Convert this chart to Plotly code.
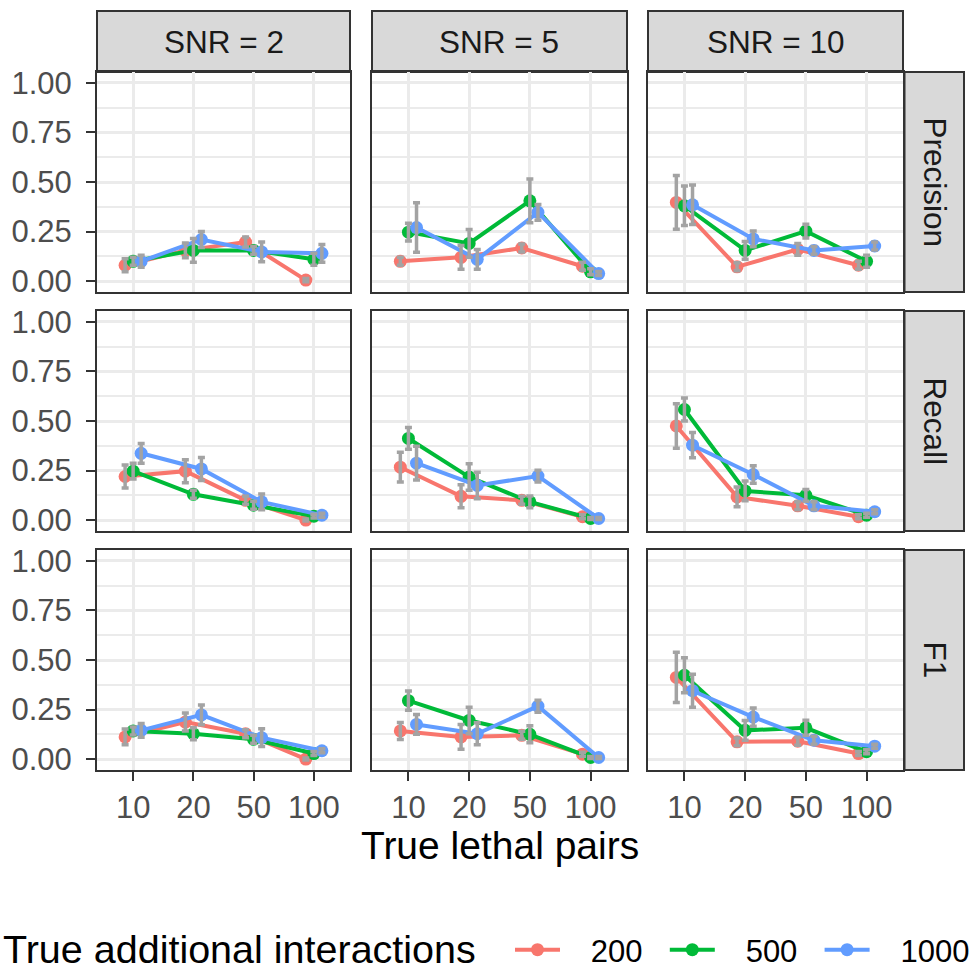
import plotly.graph_objects as go

# ---------------- data ----------------
lethal = ["10", "20", "50", "100"]
interactions = ["200", "500", "1000"]
snr_labels = ["SNR = 2", "SNR = 5", "SNR = 10"]
metrics = ["Precision", "Recall", "F1"]
colors = ["#F8766D", "#00BA38", "#619CFF"]

# Precision
prec_snr2_200 = [0.080, 0.155, 0.197, 0.005]
prec_snr2_500 = [0.100, 0.155, 0.155, 0.110]
prec_snr2_1000 = [0.100, 0.210, 0.147, 0.140]
prec_snr5_200 = [0.100, 0.120, 0.167, 0.075]
prec_snr5_500 = [0.247, 0.190, 0.405, 0.047]
prec_snr5_1000 = [0.270, 0.110, 0.347, 0.038]
prec_snr10_200 = [0.397, 0.072, 0.160, 0.080]
prec_snr10_500 = [0.380, 0.155, 0.252, 0.100]
prec_snr10_1000 = [0.385, 0.213, 0.155, 0.177]
# Recall
rec_snr2_200 = [0.220, 0.247, 0.100, 0.000]
rec_snr2_500 = [0.247, 0.130, 0.075, 0.020]
rec_snr2_1000 = [0.337, 0.258, 0.092, 0.025]
rec_snr5_200 = [0.267, 0.120, 0.100, 0.017]
rec_snr5_500 = [0.412, 0.217, 0.092, 0.008]
rec_snr5_1000 = [0.287, 0.175, 0.222, 0.008]
rec_snr10_200 = [0.475, 0.117, 0.072, 0.017]
rec_snr10_500 = [0.558, 0.147, 0.125, 0.025]
rec_snr10_1000 = [0.378, 0.230, 0.072, 0.042]
# F1
f1_snr2_200 = [0.112, 0.187, 0.128, 0.000]
f1_snr2_500 = [0.142, 0.128, 0.100, 0.028]
f1_snr2_1000 = [0.145, 0.223, 0.108, 0.042]
f1_snr5_200 = [0.142, 0.112, 0.120, 0.025]
f1_snr5_500 = [0.295, 0.195, 0.125, 0.008]
f1_snr5_1000 = [0.175, 0.128, 0.267, 0.008]
f1_snr10_200 = [0.412, 0.087, 0.090, 0.028]
f1_snr10_500 = [0.423, 0.145, 0.158, 0.037]
f1_snr10_1000 = [0.345, 0.212, 0.095, 0.065]

# error half-widths
prec_snr2_200_se = [0.033, 0.037, 0.025, 0.008]
prec_snr2_500_se = [0.020, 0.060, 0.020, 0.030]
prec_snr2_1000_se = [0.030, 0.040, 0.050, 0.045]
prec_snr5_200_se = [0.020, 0.060, 0.020, 0.020]
prec_snr5_500_se = [0.045, 0.070, 0.110, 0.015]
prec_snr5_1000_se = [0.125, 0.050, 0.040, 0.010]
prec_snr10_200_se = [0.136, 0.020, 0.030, 0.020]
prec_snr10_500_se = [0.100, 0.045, 0.035, 0.030]
prec_snr10_1000_se = [0.100, 0.040, 0.020, 0.020]
rec_snr2_200_se = [0.058, 0.058, 0.020, 0.005]
rec_snr2_500_se = [0.040, 0.020, 0.020, 0.010]
rec_snr2_1000_se = [0.050, 0.058, 0.040, 0.010]
rec_snr5_200_se = [0.075, 0.058, 0.020, 0.010]
rec_snr5_500_se = [0.055, 0.067, 0.030, 0.005]
rec_snr5_1000_se = [0.085, 0.067, 0.030, 0.005]
rec_snr10_200_se = [0.112, 0.050, 0.020, 0.010]
rec_snr10_500_se = [0.058, 0.050, 0.030, 0.010]
rec_snr10_1000_se = [0.064, 0.044, 0.020, 0.010]
f1_snr2_200_se = [0.040, 0.045, 0.020, 0.005]
f1_snr2_500_se = [0.020, 0.030, 0.020, 0.010]
f1_snr2_1000_se = [0.035, 0.050, 0.045, 0.010]
f1_snr5_200_se = [0.043, 0.062, 0.020, 0.010]
f1_snr5_500_se = [0.048, 0.067, 0.043, 0.005]
f1_snr5_1000_se = [0.050, 0.055, 0.030, 0.005]
f1_snr10_200_se = [0.127, 0.020, 0.020, 0.010]
f1_snr10_500_se = [0.088, 0.050, 0.038, 0.010]
f1_snr10_1000_se = [0.083, 0.046, 0.020, 0.010]

panel_means = [
    [[prec_snr2_200, prec_snr2_500, prec_snr2_1000],
     [prec_snr5_200, prec_snr5_500, prec_snr5_1000],
     [prec_snr10_200, prec_snr10_500, prec_snr10_1000]],
    [[rec_snr2_200, rec_snr2_500, rec_snr2_1000],
     [rec_snr5_200, rec_snr5_500, rec_snr5_1000],
     [rec_snr10_200, rec_snr10_500, rec_snr10_1000]],
    [[f1_snr2_200, f1_snr2_500, f1_snr2_1000],
     [f1_snr5_200, f1_snr5_500, f1_snr5_1000],
     [f1_snr10_200, f1_snr10_500, f1_snr10_1000]],
]
panel_se = [
    [[prec_snr2_200_se, prec_snr2_500_se, prec_snr2_1000_se],
     [prec_snr5_200_se, prec_snr5_500_se, prec_snr5_1000_se],
     [prec_snr10_200_se, prec_snr10_500_se, prec_snr10_1000_se]],
    [[rec_snr2_200_se, rec_snr2_500_se, rec_snr2_1000_se],
     [rec_snr5_200_se, rec_snr5_500_se, rec_snr5_1000_se],
     [rec_snr10_200_se, rec_snr10_500_se, rec_snr10_1000_se]],
    [[f1_snr2_200_se, f1_snr2_500_se, f1_snr2_1000_se],
     [f1_snr5_200_se, f1_snr5_500_se, f1_snr5_1000_se],
     [f1_snr10_200_se, f1_snr10_500_se, f1_snr10_1000_se]],
]

# ---------------- layout geometry ----------------
W, H = 980, 972
FONT = "Liberation Sans, Arial, Helvetica, sans-serif"
col_px = [(97, 350), (372, 627), (648, 903)]
row_px = [(72, 292), (311, 531), (550, 770)]
dodge = 0.4
offsets = [-dodge / 3, 0, dodge / 3]
NB = "\u00a0"


def px_x(p):
    return p / W


def px_y(p):
    return 1 - p / H


def legend_name(s):
    trail = NB * 2 if s < len(interactions) - 1 else ""
    return NB * 3 + interactions[s] + trail


fig = go.Figure()
layout = dict(
    width=W, height=H, margin=dict(l=0, r=0, t=0, b=0, autoexpand=False),
    paper_bgcolor="white", plot_bgcolor="white",
    font=dict(family=FONT, size=31, color="#1A1A1A"),
    showlegend=True,
)

shapes = []
annotations = []

for r in range(3):
    for c in range(3):
        k = r * 3 + c + 1
        xa = "x" if k == 1 else f"x{k}"
        ya = "y" if k == 1 else f"y{k}"
        xkey = "xaxis" if k == 1 else f"xaxis{k}"
        ykey = "yaxis" if k == 1 else f"yaxis{k}"
        layout[xkey] = dict(
            domain=[px_x(col_px[c][0]), px_x(col_px[c][1])],
            anchor=ya, range=[0.4, 4.6], automargin=False,
            tickmode="array", tickvals=[1, 2, 3, 4], ticktext=lethal,
            showticklabels=(r == 2), ticks="outside" if r == 2 else "",
            ticklen=9, tickwidth=2, tickcolor="#333333",
            tickfont=dict(size=31, color="#4D4D4D", family=FONT),
            showgrid=True, gridcolor="#EBEBEB", gridwidth=3,
            zeroline=False, showline=True, mirror=True,
            linecolor="#333333", linewidth=2,
        )
        layout[ykey] = dict(
            domain=[px_y(row_px[r][1]), px_y(row_px[r][0])],
            anchor=xa, range=[-0.055, 1.055], automargin=False,
            tickmode="array", tickvals=[0, 0.25, 0.5, 0.75, 1.0],
            ticktext=["0.00", "0.25", "0.50", "0.75", "1.00"],
            showticklabels=(c == 0), ticks="outside" if c == 0 else "",
            ticklen=9, tickwidth=2, tickcolor="#333333", ticklabelstandoff=8,
            tickfont=dict(size=31, color="#4D4D4D", family=FONT),
            showgrid=True, gridcolor="#EBEBEB", gridwidth=3,
            minor=dict(tickmode="array", tickvals=[0.125, 0.375, 0.625, 0.875],
                       showgrid=True, gridcolor="#EBEBEB", gridwidth=1.5, ticks=""),
            zeroline=False, showline=True, mirror=True,
            linecolor="#333333", linewidth=2,
        )
        # series lines + points
        for s in range(3):
            xs = [i + 1 + offsets[s] for i in range(len(lethal))]
            fig.add_trace(go.Scatter(
                x=xs, y=panel_means[r][c][s], xaxis=xa, yaxis=ya,
                mode="lines+markers", name=legend_name(s),
                legendgroup=interactions[s], showlegend=(k == 1),
                line=dict(color=colors[s], width=4),
                marker=dict(color=colors[s], size=13),
            ))
        # error bars on top
        for s in range(3):
            xs = [i + 1 + offsets[s] for i in range(len(lethal))]
            fig.add_trace(go.Scatter(
                x=xs, y=panel_means[r][c][s], xaxis=xa, yaxis=ya,
                mode="markers", showlegend=False, hoverinfo="skip",
                marker=dict(color="rgba(0,0,0,0)", size=1),
                error_y=dict(type="data", array=panel_se[r][c][s], visible=True,
                             color="#A3A3A3", thickness=3.5, width=3.5),
            ))

# top strips
for c in range(3):
    shapes.append(dict(type="rect", xref="paper", yref="paper",
                       x0=px_x(col_px[c][0]), x1=px_x(col_px[c][1]),
                       y0=px_y(72), y1=px_y(11),
                       fillcolor="#D9D9D9", line=dict(color="#333333", width=2),
                       layer="below"))
    annotations.append(dict(text=snr_labels[c], xref="paper", yref="paper",
                            x=px_x((col_px[c][0] + col_px[c][1]) / 2), y=px_y(41.5),
                            xanchor="center", yanchor="middle", showarrow=False,
                            font=dict(size=31.5, color="#1A1A1A", family=FONT)))
# right strips
for r in range(3):
    shapes.append(dict(type="rect", xref="paper", yref="paper",
                       x0=px_x(904.5), x1=px_x(964),
                       y0=px_y(row_px[r][1]), y1=px_y(row_px[r][0]),
                       fillcolor="#D9D9D9", line=dict(color="#333333", width=2),
                       layer="below"))
    annotations.append(dict(text=metrics[r], xref="paper", yref="paper",
                            x=px_x(934.5), y=px_y((row_px[r][0] + row_px[r][1]) / 2),
                            xanchor="center", yanchor="middle", showarrow=False,
                            textangle=90,
                            font=dict(size=31.5, color="#1A1A1A", family=FONT)))

# axis title
annotations.append(dict(text="True lethal pairs", xref="paper", yref="paper",
                        x=px_x(500), y=px_y(845), xanchor="center", yanchor="middle",
                        showarrow=False, font=dict(size=39, color="black", family=FONT)))
# legend title
annotations.append(dict(text="True additional interactions", xref="paper", yref="paper",
                        x=px_x(1), y=px_y(949), xanchor="left", yanchor="middle",
                        showarrow=False, font=dict(size=39.5, color="black", family=FONT)))

layout["shapes"] = shapes
layout["annotations"] = annotations
layout["legend"] = dict(
    orientation="h", xref="container", yref="container",
    x=px_x(510), xanchor="left", y=px_y(950), yanchor="middle",
    font=dict(size=31, color="black", family=FONT),
    itemwidth=45, bgcolor="rgba(0,0,0,0)",
)
fig.update_layout(**layout)
fig.write_html("out.html")
